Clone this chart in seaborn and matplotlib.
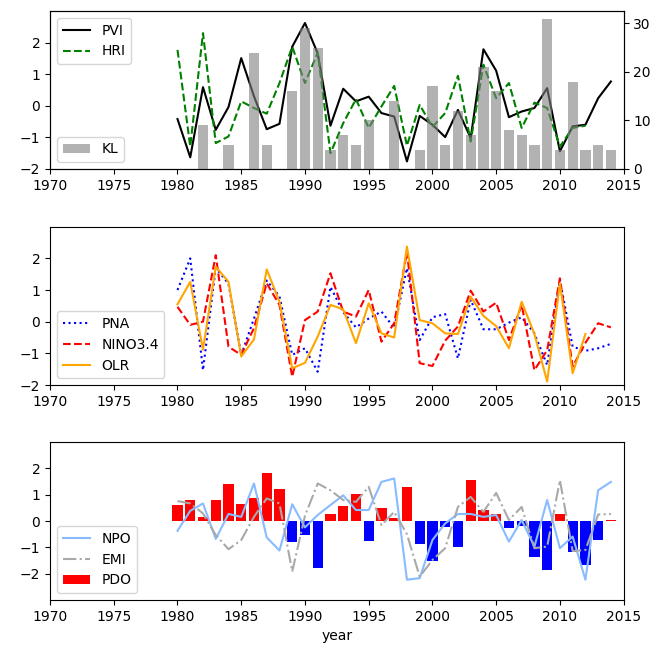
import matplotlib
matplotlib.use("Agg")
import matplotlib.pyplot as plt
import seaborn as sns
import numpy as np

years = list(range(1980, 2015))

# top panel
pvi = [-0.42, -1.63, 0.59, -0.76, -0.04, 1.51, 0.30, -0.74, -0.57, 1.87,
       2.62, 1.66, -0.63, 0.54, 0.14, 0.29, -0.23, -0.34, -1.76, -0.32,
       -0.60, -0.99, -0.13, -1.02, 1.79, 1.11, -0.36, -0.18, -0.07, 0.56,
       -1.44, -0.65, -0.60, 0.24, 0.77]
hri_years = list(range(1980, 2013))
hri = [1.77, -1.29, 2.30, -1.18, -0.97, 0.14, -0.07, -0.25, 0.72, 1.87,
       0.72, 1.68, -1.50, -0.55, 0.21, -0.70, -0.02, 0.63, -1.26, 0.03,
       -0.67, -0.23, 0.95, -1.13, 1.30, 0.24, 0.72, -0.70, 0.10, -0.07,
       -1.29, -0.70, -0.63]
kl_years = [1982, 1984, 1986, 1987, 1989, 1990, 1991, 1992, 1993, 1994, 1995,
            1997, 1999, 2000, 2001, 2002, 2003, 2004, 2005, 2006, 2007, 2008,
            2009, 2010, 2011, 2012, 2013, 2014]
kl = [9, 5, 24, 5, 16, 29, 25, 4, 7, 5, 10,
      14, 4, 17, 5, 12, 7, 21, 16, 8, 7, 5,
      31, 4, 18, 4, 5, 4]

# middle panel
pna = [1.00, 2.00, -1.53, 1.70, 1.20, -1.05, 0.10, 1.30, 0.80, -1.05,
       -0.84, -1.58, 1.10, 0.30, -0.18, 0.10, 0.32, -0.20, 1.69, -0.58,
       0.14, 0.24, -1.16, 0.69, -0.24, -0.24, -0.03, 0.14, -0.37, -1.37,
       1.32, -0.79, -0.92, -0.84, -0.70]
nino = [0.47, -0.10, 0.00, 2.10, -0.79, -1.05, -0.20, 1.21, 0.53, -1.74,
        0.05, 0.32, 1.53, 0.32, 0.16, 1.00, -0.63, -0.05, 2.20, -1.31,
        -1.40, -0.60, -0.15, 0.98, 0.32, 0.60, -0.58, 0.53, -1.53, -0.90,
        1.37, -1.42, -0.67, -0.05, -0.18]
olr_years = list(range(1980, 2013))
olr = [0.55, 1.26, -0.89, 1.74, 1.26, -1.10, -0.56, 1.65, 0.63, -1.47,
       -1.30, -0.47, 0.53, 0.39, -0.68, 0.58, -0.37, -0.50, 2.37, 0.05,
       -0.05, -0.37, -0.39, 0.79, 0.18, -0.14, -0.84, 0.63, -0.39, -1.89,
       1.21, -1.63, -0.39]

# bottom panel
npo = [-0.37, 0.39, 0.67, -0.68, 0.27, 0.16, 1.43, -0.62, -1.12, 0.64,
       -0.24, 0.23, 0.61, 0.98, 0.42, 0.42, 1.49, 1.62, -2.23, -2.17,
       -0.72, -0.09, 0.27, 0.27, 0.16, 0.23, -0.78, 0.04, -0.97, 0.80,
       -1.03, -0.59, -2.23, 1.17, 1.49]
emi = [0.76, 0.67, 0.29, -0.53, -1.07, -0.72, 0.16, 0.86, 0.67, -1.92,
       0.20, 1.43, 1.17, 0.80, 0.73, 1.30, -0.15, 0.35, -0.50, -2.11,
       -1.48, -1.03, 0.54, 0.92, 0.35, 1.07, 0.04, 0.54, -1.03, -0.97,
       1.55, -1.14, -1.10, 0.25, 0.27]
pdo = [0.61, 0.80, 0.16, 0.80, 1.40, 0.64, 0.86, 1.84, 1.21, -0.78,
       -0.53, -1.77, 0.27, 0.57, 1.02, -0.76, 0.48, 0.10, 1.30, -0.87,
       -1.52, -0.24, -0.97, 1.55, 0.42, 0.27, -0.28, -0.19, -1.38, -1.86,
       0.27, -1.16, -1.67, -0.72, 0.03]

pdo_pos_years = [y for y, v in zip(years, pdo) if v >= 0]
pdo_pos = [v for v in pdo if v >= 0]
pdo_neg_years = [y for y, v in zip(years, pdo) if v < 0]
pdo_neg = [v for v in pdo if v < 0]

fig = plt.figure(figsize=(6.67, 6.52), dpi=100)
left, width = 0.075, 0.86
ax1 = fig.add_axes([left, 0.7408, width, 0.2423])
ax2 = fig.add_axes([left, 0.4095, width, 0.2428])
ax3 = fig.add_axes([left, 0.0798, width, 0.2420])

# top: PVI / HRI with KL bars on twin axis
sns.lineplot(x=years, y=pvi, ax=ax1, color='k', label='PVI', legend=False)
sns.lineplot(x=hri_years, y=hri, ax=ax1, color='green', linestyle='--', label='HRI', legend=False)
ax1.set_ylim(-2, 3)
ax1.set_yticks([-2, -1, 0, 1, 2])
ax1.legend(loc='upper left')
ax1b = ax1.twinx()
sns.barplot(x=kl_years, y=kl, ax=ax1b, native_scale=True, color='gray', alpha=0.6,
            saturation=1, errorbar=None, label='KL', legend=False)
ax1b.set_ylim(0, 32.55)
ax1b.set_yticks([0, 10, 20, 30])
ax1b.legend(loc='lower left')

# middle: PNA / NINO3.4 / OLR
sns.lineplot(x=years, y=pna, ax=ax2, color='blue', linestyle=':', label='PNA', legend=False)
sns.lineplot(x=years, y=nino, ax=ax2, color='red', linestyle='--', label='NINO3.4', legend=False)
sns.lineplot(x=olr_years, y=olr, ax=ax2, color='orange', label='OLR', legend=False)
ax2.set_ylim(-2, 3)
ax2.set_yticks([-2, -1, 0, 1, 2])
ax2.legend(loc='lower left')

# bottom: PDO bars under NPO / EMI lines
sns.barplot(x=pdo_pos_years, y=pdo_pos, ax=ax3, native_scale=True, color='red',
            saturation=1, errorbar=None, label='PDO', legend=False)
sns.barplot(x=pdo_neg_years, y=pdo_neg, ax=ax3, native_scale=True, color='blue',
            saturation=1, errorbar=None, legend=False)
sns.lineplot(x=years, y=npo, ax=ax3, color='#88bbff', label='NPO', legend=False, zorder=3)
sns.lineplot(x=years, y=emi, ax=ax3, color='darkgray', linestyle='-.', label='EMI', legend=False, zorder=3)
ax3.set_ylim(-3, 3)
ax3.set_yticks([-2, -1, 0, 1, 2])
h, l = ax3.get_legend_handles_labels()
order = ['NPO', 'EMI', 'PDO']
hd = dict(zip(l, h))
ax3.legend([hd[k] for k in order], order, loc='lower left')
ax3.set_xlabel('year')

for ax in (ax1, ax2, ax3):
    ax.set_xlim(1970, 2015)
    ax.set_xticks(np.arange(1970, 2016, 5))
    ax.set_ylabel('')
ax1.set_xlabel('')
ax2.set_xlabel('')
ax1b.set_ylabel('')

fig.savefig('out.png', dpi=100)
